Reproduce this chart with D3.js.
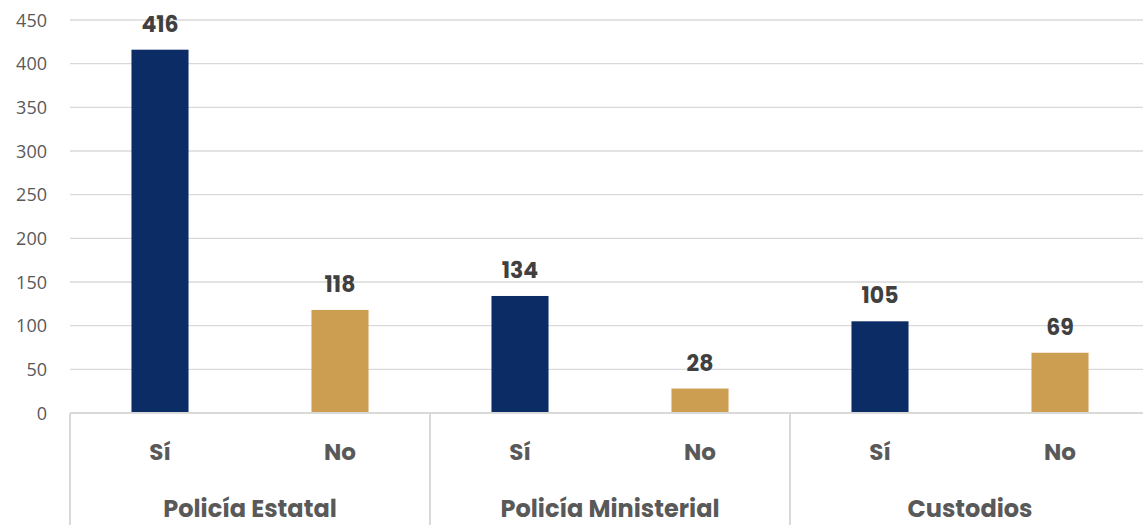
<!DOCTYPE html>
<html><head><meta charset="utf-8">
<script src="https://cdn.jsdelivr.net/npm/d3@7"></script>
<style>html,body{margin:0;padding:0;background:#fff;overflow:hidden}</style>
</head><body>
<svg id="c" width="1143" height="525"></svg>
<script>
const groups = ["Policía Estatal", "Policía Ministerial", "Custodios"];
const answers = ["Sí", "No"];
const values = [416, 118, 134, 28, 105, 69];
const yTicks = [0, 50, 100, 150, 200, 250, 300, 350, 400, 450];
const colors = {"Sí": "#0b2c64", "No": "#cc9e52"};

const rows = [];
groups.forEach((g, gi) => answers.forEach((a, ai) => rows.push({g, a, v: values[gi*2+ai], key: g + "|" + a})));

const svg = d3.select("#c");
const mLeft = 70, mRight = 1150, mTop = 20, mBase = 413;
const x = d3.scaleBand().domain(rows.map(d => d.key)).range([mLeft, mRight]).paddingInner(0.683).paddingOuter(0.3415);
const xg = d3.scaleBand().domain(groups).range([mLeft, mRight]);
const y = d3.scaleLinear().domain([0, 450]).range([mBase, mTop]);

// gridlines
svg.append("g").selectAll("line").data(yTicks.filter(t => t > 0)).join("line")
  .attr("x1", mLeft).attr("x2", 1143).attr("y1", d => y(d)).attr("y2", d => y(d))
  .attr("stroke", "#d9d9d9").attr("stroke-width", 1.3);

// y axis labels
const yAxis = d3.axisLeft(y).tickValues(yTicks).tickSize(0).tickPadding(0);
const ya = svg.append("g").attr("transform", "translate(47,0)").call(yAxis);
ya.select(".domain").remove();
ya.selectAll("text").attr("font-family", "'Open Sans', 'Noto Sans', sans-serif").attr("font-size", 18).attr("fill", "#595959").attr("dy", "0.35em");

// bars
svg.append("g").selectAll("rect").data(rows).join("rect")
  .attr("x", d => x(d.key)).attr("width", x.bandwidth())
  .attr("y", d => y(d.v)).attr("height", d => y(0) - y(d.v))
  .attr("fill", d => colors[d.a]);

// value labels
svg.append("g").selectAll("text").data(rows).join("text")
  .attr("x", d => x(d.key) + x.bandwidth()/2).attr("y", d => y(d.v) - 18)
  .attr("text-anchor", "middle").attr("font-family", "Poppins, 'Noto Sans', sans-serif")
  .attr("font-weight", "bold").attr("font-size", 22).attr("fill", "#404040")
  .text(d => d.v);

// baseline
svg.append("line").attr("x1", mLeft).attr("x2", 1143).attr("y1", mBase).attr("y2", mBase)
  .attr("stroke", "#d9d9d9").attr("stroke-width", 2);

// group separators
svg.append("g").selectAll("line").data(groups.concat(["end"])).join("line")
  .attr("x1", (d, i) => i < groups.length ? xg(d) : mRight)
  .attr("x2", (d, i) => i < groups.length ? xg(d) : mRight)
  .attr("y1", mBase).attr("y2", 525).attr("stroke", "#d9d9d9").attr("stroke-width", 2);

// category labels
svg.append("g").selectAll("text").data(rows).join("text")
  .attr("x", d => x(d.key) + x.bandwidth()/2).attr("y", 460)
  .attr("text-anchor", "middle").attr("font-family", "Poppins, 'Noto Sans', sans-serif")
  .attr("font-weight", "bold").attr("font-size", 23).attr("fill", "#595959")
  .text(d => d.a);

svg.append("g").selectAll("text").data(groups).join("text")
  .attr("x", d => xg(d) + xg.bandwidth()/2).attr("y", 517)
  .attr("text-anchor", "middle").attr("font-family", "Poppins, 'Noto Sans', sans-serif")
  .attr("font-weight", "bold").attr("font-size", 24).attr("fill", "#595959")
  .text(d => d);
</script>
</body></html>
